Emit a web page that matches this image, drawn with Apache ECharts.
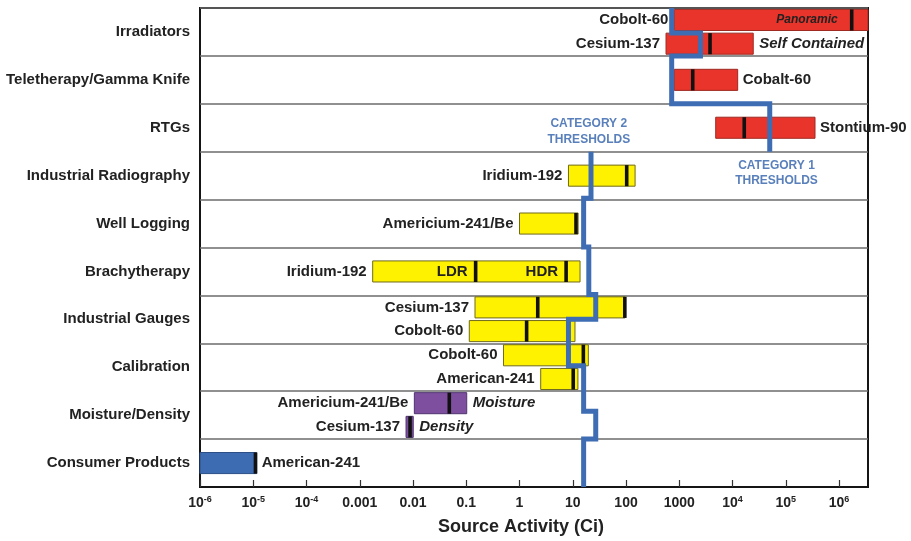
<!DOCTYPE html>
<html><head><meta charset="utf-8">
<script src="https://cdn.jsdelivr.net/npm/echarts@6/dist/echarts.min.js"></script>
<style>html,body{margin:0;padding:0;background:#fff}#c{width:911px;height:541px}</style>
</head><body><div id="c"></div>
<script>
// ---------- DATA ----------
const categories = ['Irradiators','Teletherapy/Gamma Knife','RTGs','Industrial Radiography','Well Logging','Brachytherapy','Industrial Gauges','Calibration','Moisture/Density','Consumer Products'];

const tickValues = [1e-6,1e-5,1e-4,0.001,0.01,0.1,1,10,100,1000,1e4,1e5,1e6];
const tickBase = ['10','10','10','0.001','0.01','0.1','1','10','100','1000','10','10','10'];
const tickExp  = ['-6','-5','-4','','','','','','','','4','5','6'];

const barNames = ['Cobolt-60','Cesium-137','Cobalt-60','Stontium-90','Iridium-192','Americium-241/Be','Iridium-192','Cesium-137','Cobolt-60','Cobolt-60','American-241','Americium-241/Be','Cesium-137','American-241'];
const barRow   = [0,0,1,2,3,4,5,6,6,7,7,8,8,9];
const barLow   = [807, 564, 807, 4830, 8.3, 1.0, 0.00175, 0.146, 0.114, 0.5, 2.5, 0.0106, 0.0074, 1e-6];
const barHigh  = [3.5e6, 24500, 12500, 354000, 148, 12.6, 13.7, 96, 11, 19.6, 12.5, 0.102, 0.0101, 1.16e-5];
const barTypical = [[1.73e6],[3780],[1790],[16600],[103],[11.5],[0.15,7.5],[2.2,95],[1.36],[15.8],[10.2],[0.048],[0.0088],[1.1e-5]];
const barGroup = ['red','red','red','red','yellow','yellow','yellow','yellow','yellow','yellow','yellow','purple','purple','blue'];
const barNotes = ['Panoramic','Self Contained','','','','','','','','','','Moisture','Density',''];
const markerNotes = [[],[],[],[],[],[],['LDR','HDR'],[],[],[],[],[],[],[]];

const cat1Activity = [720, 720, 2500, 2500, 720, 720, 50000, 50000];
const cat1Row      = [0, 0.52, 0.52, 1.0, 1.0, 2.0, 2.0, 3.0];
const cat2Activity = [22, 22, 16, 16, 20, 20, 27, 27, 8.3, 8.3, 16, 16, 27, 27, 16, 16];
const cat2Row      = [3.0, 3.97, 3.97, 4.99, 4.99, 5.98, 5.98, 6.5, 6.5, 7.47, 7.47, 8.42, 8.42, 9.0, 9.0, 10.0];

const thresholdLabels = ['CATEGORY 2\nTHRESHOLDS', 'CATEGORY 1\nTHRESHOLDS'];
const thresholdLabelActivity = [20, 67000];
const thresholdLabelRow = [2.58, 3.45];

// ---------- LAYOUT / STYLE ----------
const barSlot  = [0.25,0.745,0.5,0.5,0.5,0.5,0.5,0.25,0.745,0.25,0.745,0.25,0.745,0.5];
const nameSide = ['left','left','right','right','left','left','left','left','left','left','left','left','left','right'];
const notePlace = ['inside','right','','','','','','','','','','right','right',''];
const groupFill   = {red:'#e8342b', yellow:'#fff200', purple:'#7e4f9e', blue:'#3d6cb3'};
const groupStroke = {red:'#9e2a22', yellow:'#6f6a1c', purple:'#4f3470', blue:'#2b4f86'};
const FONT = '"Liberation Sans", Arial, Helvetica, sans-serif';
const TXT = '#222';
const LINE_BLUE = '#3e6db4';

const barData = barNames.map((n, i) => [barLow[i], barHigh[i], barRow[i] + barSlot[i], i]);

function renderBar(params, api) {
  const i = api.value(3);
  const yv = api.value(2);
  const p0 = api.coord([api.value(0), yv]);
  const p1 = api.coord([api.value(1), yv]);
  const rowPx = Math.abs(api.coord([1, 1])[1] - api.coord([1, 0])[1]);
  const h = rowPx * 0.44;
  const yc = p0[1];
  const g = barGroup[i];
  const children = [{
    type: 'rect',
    shape: {x: p0[0], y: yc - h / 2, width: p1[0] - p0[0], height: h},
    style: {fill: groupFill[g], stroke: groupStroke[g], lineWidth: 1}
  }];
  barTypical[i].forEach((t, k) => {
    const px = api.coord([t, yv])[0];
    children.push({type: 'rect', shape: {x: px - 1.8, y: yc - h / 2, width: 3.6, height: h}, style: {fill: '#111'}});
    const mn = markerNotes[i][k];
    if (mn) {
      children.push({type: 'text', style: {text: mn, x: px - 8, y: yc, align: 'right', verticalAlign: 'middle',
        fontSize: 15, fontWeight: 'bold', fontFamily: FONT, fill: TXT}});
    }
  });
  if (nameSide[i] === 'left') {
    children.push({type: 'text', style: {text: barNames[i], x: p0[0] - 6, y: yc, align: 'right', verticalAlign: 'middle',
      fontSize: 15, fontWeight: 'bold', fontFamily: FONT, fill: TXT}});
  } else {
    children.push({type: 'text', style: {text: barNames[i], x: p1[0] + 5, y: yc, align: 'left', verticalAlign: 'middle',
      fontSize: 15, fontWeight: 'bold', fontFamily: FONT, fill: TXT}});
  }
  if (barNotes[i]) {
    if (notePlace[i] === 'inside') {
      const mx = api.coord([barTypical[i][0], yv])[0];
      children.push({type: 'text', style: {text: barNotes[i], x: mx - 14, y: yc, align: 'right', verticalAlign: 'middle',
        fontSize: 12, fontWeight: 'bold', fontStyle: 'italic', fontFamily: FONT, fill: TXT}});
    } else {
      children.push({type: 'text', style: {text: barNotes[i], x: p1[0] + 6, y: yc, align: 'left', verticalAlign: 'middle',
        fontSize: 15, fontWeight: 'bold', fontStyle: 'italic', fontFamily: FONT, fill: TXT}});
    }
  }
  return {type: 'group', children};
}

function renderLabel(params, api) {
  const k = api.value(2);
  const p = api.coord([api.value(0), api.value(1)]);
  return {type: 'text', style: {text: thresholdLabels[k], x: p[0], y: p[1], align: 'center', verticalAlign: 'middle',
    fontSize: 12, fontWeight: 'bold', fontFamily: FONT, fill: '#5a80bc', lineHeight: 15.5}};
}

function tickFormatter(v) {
  const l = Math.log10(v);
  const e = Math.round(l);
  if (Math.abs(l - e) > 1e-6) return '';
  const idx = e + 6;
  if (idx < 0 || idx >= tickBase.length) return '';
  return tickExp[idx] ? '{b|' + tickBase[idx] + '}{s|' + tickExp[idx] + '}' : '{b|' + tickBase[idx] + '}';
}

const chart = echarts.init(document.getElementById('c'), null, {renderer: 'canvas'});
chart.setOption({
  animation: false,
  backgroundColor: '#fff',
  textStyle: {fontFamily: FONT},
  grid: {left: 200, right: 43, top: 8, bottom: 53, show: true, borderColor: '#151515', borderWidth: 2, backgroundColor: '#fff'},
  xAxis: {
    type: 'log', logBase: 10, min: 1e-6, max: 3.5e6,
    name: 'Source Activity (Ci)', nameLocation: 'middle', nameGap: 31,
    nameTextStyle: {fontSize: 18, fontWeight: 'bold', color: TXT, fontFamily: FONT, padding: [0, 26, 0, 0]},
    axisLine: {show: true, onZero: false, lineStyle: {color: '#151515', width: 2}},
    axisTick: {show: true, inside: true, length: 7, customValues: tickValues, lineStyle: {color: '#333', width: 1.2}},
    axisLabel: {show: true, margin: 8, customValues: tickValues, formatter: tickFormatter,
      rich: {
        b: {fontSize: 14, fontWeight: 'bold', color: TXT, fontFamily: FONT, lineHeight: 16},
        s: {fontSize: 9, fontWeight: 'bold', color: TXT, fontFamily: FONT, verticalAlign: 'top', lineHeight: 10}
      }},
    splitLine: {show: false}
  },
  yAxis: [{
    type: 'category', data: categories, inverse: true, boundaryGap: true,
    axisLine: {show: false}, axisTick: {show: false},
    axisLabel: {margin: 10, fontSize: 15, fontWeight: 'bold', color: TXT, fontFamily: FONT},
    splitLine: {show: true, lineStyle: {color: '#6b6b6b', width: 1.5}}
  }, {
    type: 'value', min: 0, max: 10, inverse: true, show: false, splitLine: {show: false}
  }],
  series: [{
    type: 'custom', name: 'sources', xAxisIndex: 0, yAxisIndex: 1,
    encode: {x: [0, 1], y: 2}, data: barData, renderItem: renderBar, clip: false, silent: true, z: 2
  }, {
    type: 'line', name: 'Category 1', xAxisIndex: 0, yAxisIndex: 1,
    data: cat1Activity.map((a, k) => [a, cat1Row[k]]), showSymbol: false, symbol: 'none',
    lineStyle: {color: LINE_BLUE, width: 5, join: 'miter'}, silent: true, z: 5
  }, {
    type: 'line', name: 'Category 2', xAxisIndex: 0, yAxisIndex: 1,
    data: cat2Activity.map((a, k) => [a, cat2Row[k]]), showSymbol: false, symbol: 'none',
    lineStyle: {color: LINE_BLUE, width: 5, join: 'miter'}, silent: true, z: 5
  }, {
    type: 'custom', name: 'labels', xAxisIndex: 0, yAxisIndex: 1,
    data: thresholdLabels.map((t, k) => [thresholdLabelActivity[k], thresholdLabelRow[k], k]),
    renderItem: renderLabel, clip: false, silent: true, z: 6
  }]
});
</script></body></html>
